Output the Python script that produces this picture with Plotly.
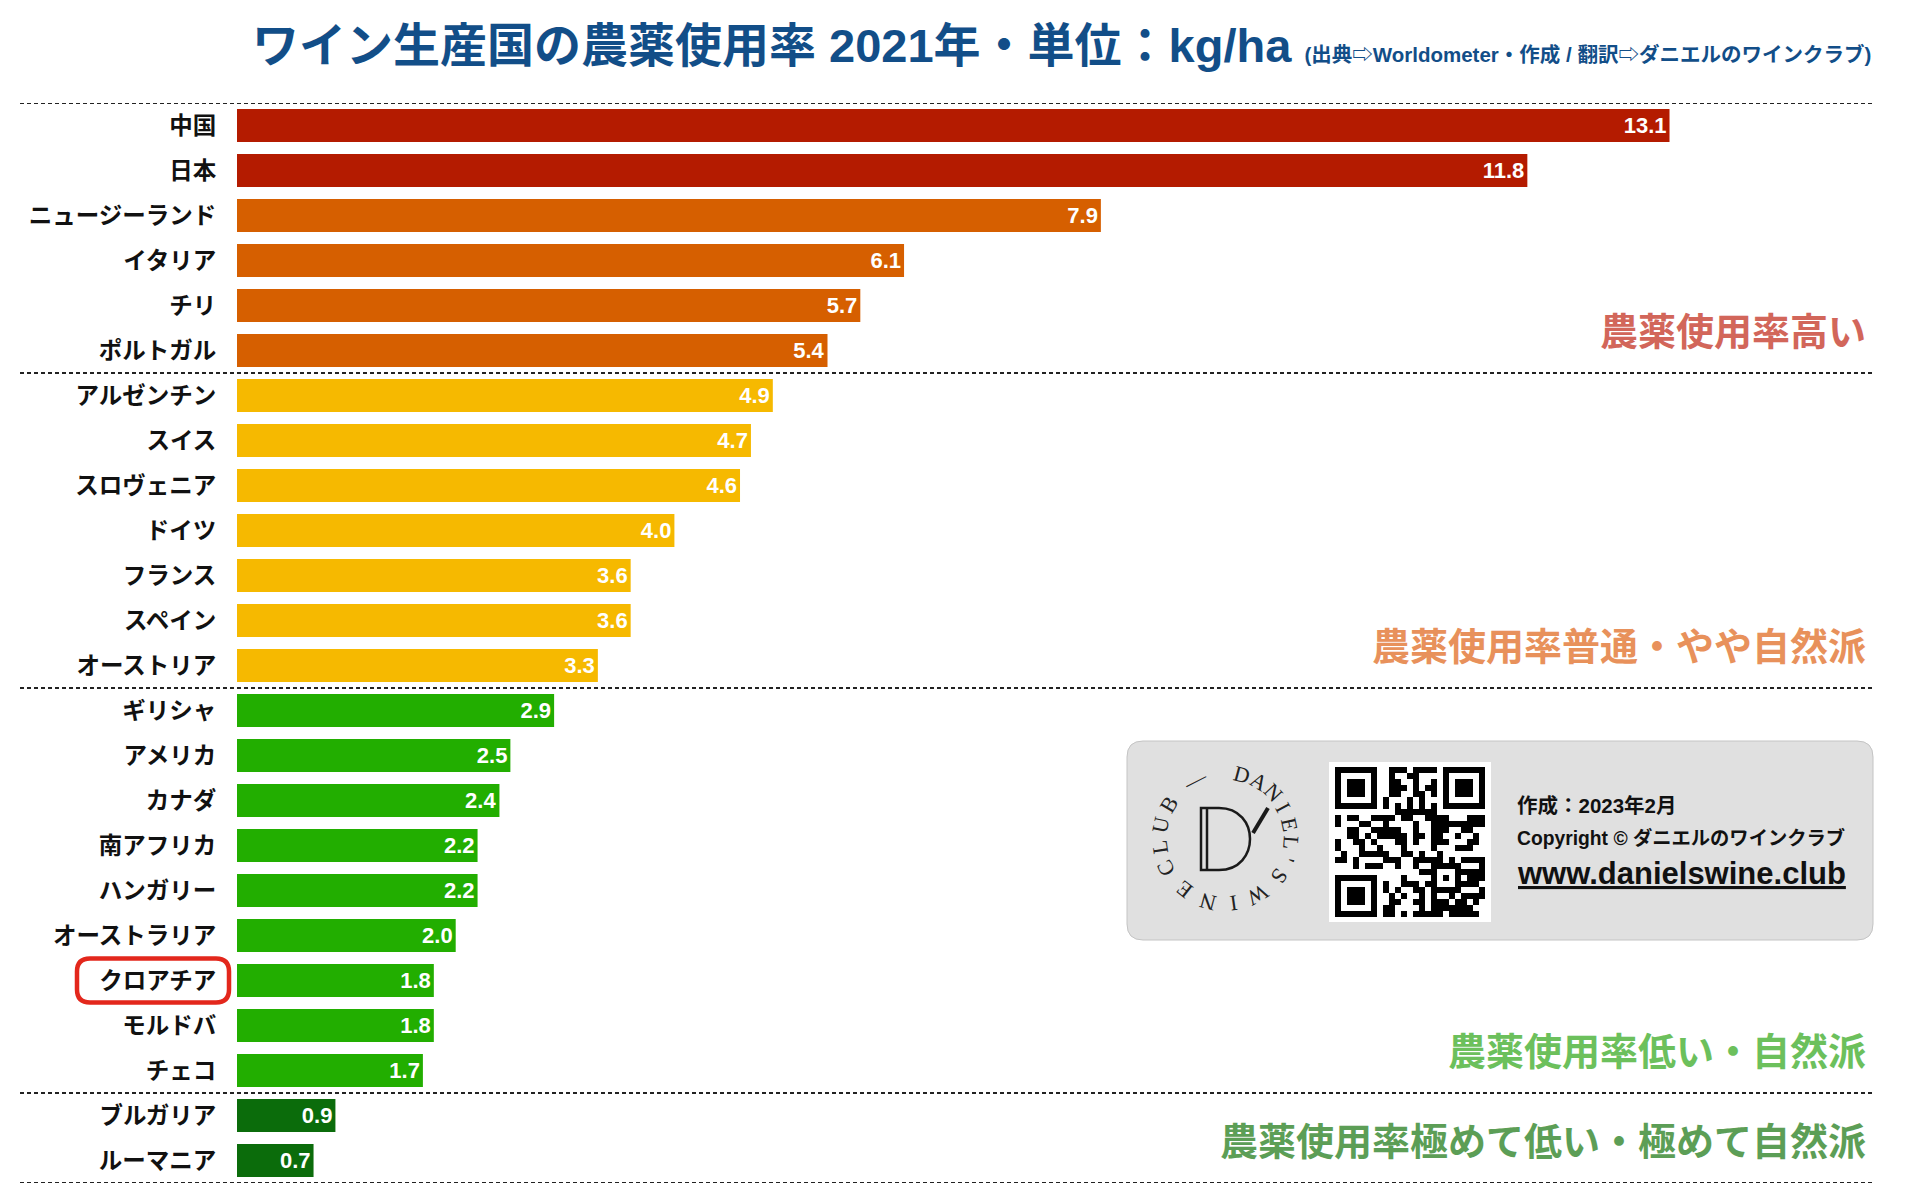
import math
import plotly.graph_objects as go

# ---------------- data ----------------
countries = ["中国", "日本", "ニュージーランド", "イタリア", "チリ", "ポルトガル",
             "アルゼンチン", "スイス", "スロヴェニア", "ドイツ", "フランス", "スペイン", "オーストリア",
             "ギリシャ", "アメリカ", "カナダ", "南アフリカ", "ハンガリー", "オーストラリア",
             "クロアチア", "モルドバ", "チェコ",
             "ブルガリア", "ルーマニア"]
values = [13.1, 11.8, 7.9, 6.1, 5.7, 5.4,
          4.9, 4.7, 4.6, 4.0, 3.6, 3.6, 3.3,
          2.9, 2.5, 2.4, 2.2, 2.2, 2.0, 1.8, 1.8, 1.7,
          0.9, 0.7]
tiers = ["red"] * 2 + ["orange"] * 4 + ["yellow"] * 7 + ["green"] * 9 + ["darkgreen"] * 2
section_names = ["農薬使用率高い", "農薬使用率普通・やや自然派",
                 "農薬使用率低い・自然派", "農薬使用率極めて低い・極めて自然派"]
section_last = [5, 12, 21, 23]
highlight = "クロアチア"

title_text = "ワイン生産国の農薬使用率 2021年・単位：kg/ha"
subtitle_text = "(出典⇨Worldometer・作成 / 翻訳⇨ダニエルのワインクラブ)"
credit_lines = ["作成：2023年2月", "Copyright © ダニエルのワインクラブ", "www.danielswine.club"]

# ---------------- styles ----------------
tier_colors = {"red": "#B41B00", "orange": "#D65F00", "yellow": "#F6B900",
               "green": "#22AE00", "darkgreen": "#0B6C0B"}
section_colors = ["#D2665A", "#E8915B", "#6CC05C", "#5C9E56"]
TITLE_BLUE = "#124E88"
JP = "Noto Sans CJK JP"
LAT = "Liberation Sans, Noto Sans CJK JP"

W, H = 1920, 1200
ML, MR, MT, MB = 237, 46, 103, 17
PW, PH = W - ML - MR, H - MT - MB


def px(X):
    return (X - ML) / PW


def py(Y):
    return (H - MB - Y) / PH


def rounded_rect(x0, y0, x1, y1, r):
    return (f"M {px(x0 + r)},{py(y0)} L {px(x1 - r)},{py(y0)} Q {px(x1)},{py(y0)} {px(x1)},{py(y0 + r)} "
            f"L {px(x1)},{py(y1 - r)} Q {px(x1)},{py(y1)} {px(x1 - r)},{py(y1)} "
            f"L {px(x0 + r)},{py(y1)} Q {px(x0)},{py(y1)} {px(x0)},{py(y1 - r)} "
            f"L {px(x0)},{py(y0 + r)} Q {px(x0)},{py(y0)} {px(x0 + r)},{py(y0)} Z")


n = len(countries)
ypos = list(range(n))
bar_colors = [tier_colors[t] for t in tiers]

fig = go.Figure()
fig.add_trace(go.Bar(
    orientation="h", x=values, y=ypos, width=0.73,
    marker=dict(color=bar_colors, line=dict(width=0)),
    texttemplate="%{x:.1f}", textposition="inside", insidetextanchor="end",
    textfont=dict(family="Liberation Sans", size=22, color="white", weight="bold"),
    constraintext="none", hoverinfo="skip", showlegend=False,
))

# ---- decorative stand-in for the QR code picture (not chart data) ----
N = 25


def qr_cell(r, c):
    for r0, c0 in [(0, 0), (0, N - 7), (N - 7, 0)]:
        if r0 <= r < r0 + 7 and c0 <= c < c0 + 7:
            rr, cc = r - r0, c - c0
            if rr in (0, 6) or cc in (0, 6):
                return 1
            return 1 if (2 <= rr <= 4 and 2 <= cc <= 4) else 0
    if (r < 8 and c < 8) or (r < 8 and c >= N - 8) or (r >= N - 8 and c < 8):
        return 0
    if 16 <= r <= 20 and 16 <= c <= 20:
        rr, cc = r - 16, c - 16
        if rr in (0, 4) or cc in (0, 4) or (rr == 2 and cc == 2):
            return 1
        return 0
    if r == 6:
        return 1 - c % 2
    if c == 6:
        return 1 - r % 2
    h = ((r * 2654435761) ^ (c * 40503) ^ (r * c * 97)) & 0xFFFFFFFF
    h = (h ^ (h >> 13)) * 1274126177 & 0xFFFFFFFF
    return (h >> 7) & 1


qr = [[qr_cell(r, c) for c in range(N)] for r in range(N)]
fig.add_trace(go.Heatmap(z=qr, xaxis="x2", yaxis="y2", zmin=0, zmax=1,
                         colorscale=[[0, "white"], [1, "black"]], showscale=False,
                         hoverinfo="skip"))

shapes = []
# logo panel + QR background (below traces)
shapes.append(dict(type="path", xref="paper", yref="paper", path=rounded_rect(1127, 741, 1873, 940, 16),
                   fillcolor="#E0E0E0", line=dict(color="#C4C4C4", width=1), layer="below"))
shapes.append(dict(type="rect", xref="paper", yref="paper", x0=px(1329), x1=px(1491), y0=py(762), y1=py(922),
                   fillcolor="white", line=dict(width=0), layer="below"))

# dashed separators
for b in [-0.5] + [s + 0.5 for s in section_last]:
    shapes.append(dict(type="line", xref="paper", yref="y", x0=px(20), x1=1.0, y0=b, y1=b,
                       line=dict(color="#222", width=2, dash="4px,3px"), layer="above"))

# highlight ring around label
hi = countries.index(highlight)
cy_hi = MT + (hi + 0.5) * PH / n
shapes.append(dict(type="path", xref="paper", yref="paper",
                   path=rounded_rect(77, cy_hi - 22, 229, cy_hi + 22, 13),
                   line=dict(color="#E3271C", width=4.5), fillcolor="rgba(0,0,0,0)", layer="above"))

# logo "D" mark
LCX, LCY = 1225, 838
d_left, d_top, d_bot, R = 1201, 808, 870, 31
k = 4 / 3 * R
d_path = (f"M {px(d_left)},{py(d_top)} L {px(d_left + 18)},{py(d_top)} "
          f"C {px(d_left + 18 + k)},{py(d_top)} {px(d_left + 18 + k)},{py(d_bot)} {px(d_left + 18)},{py(d_bot)} "
          f"L {px(d_left)},{py(d_bot)} Z")
shapes.append(dict(type="path", xref="paper", yref="paper", path=d_path,
                   line=dict(color="#1A1A1A", width=2.5), fillcolor="rgba(0,0,0,0)", layer="above"))
shapes.append(dict(type="line", xref="paper", yref="paper", x0=px(d_left + 6), x1=px(d_left + 6),
                   y0=py(d_top), y1=py(d_bot), line=dict(color="#1A1A1A", width=2.5), layer="above"))
shapes.append(dict(type="line", xref="paper", yref="paper", x0=px(1253), x1=px(1268), y0=py(833), y1=py(808),
                   line=dict(color="#1A1A1A", width=4), layer="above"))

annotations = []
# title + source
annotations.append(dict(
    xref="paper", yref="paper", x=px(250), y=py(46), xanchor="left", yanchor="middle", showarrow=False,
    text=f"<b>{title_text}</b> <span style='font-size:20.5px'><b>{subtitle_text}</b></span>",
    font=dict(family=LAT, size=47, color=TITLE_BLUE)))

# section labels
for name, last, col in zip(section_names, section_last, section_colors):
    annotations.append(dict(xref="paper", yref="y", x=px(1868), y=last - 0.5, xanchor="right", yanchor="middle",
                            showarrow=False, text=f"<b>{name}</b>",
                            font=dict(family=JP, size=38, color=col)))

# circular logo lettering
ring = [("D", 15), ("A", 31), ("N", 47), ("I", 62), ("E", 78), ("L", 94), ("'", 109), ("S", 125),
        ("W", 150), ("I", 172), ("N", 195), ("E", 218), ("C", 243), ("L", 262), ("U", 282), ("B", 301),
        ("—", 333)]
RR = 66
for ch, ang in ring:
    a = math.radians(ang)
    annotations.append(dict(xref="paper", yref="paper", x=px(LCX), y=py(LCY),
                            xshift=RR * math.sin(a), yshift=RR * math.cos(a),
                            xanchor="center", yanchor="middle", showarrow=False, text=ch, textangle=ang,
                            font=dict(family="Liberation Serif", size=22, color="#222")))

# credit text
credit_y = [805, 838, 873]
credit_size = [20.5, 19.3, 31]
for i, (t, yy, fs) in enumerate(zip(credit_lines, credit_y, credit_size)):
    txt = f"<b><u>{t}</u></b>" if i == 2 else f"<b>{t}</b>"
    annotations.append(dict(xref="paper", yref="paper", x=px(1515), y=py(yy), xanchor="left", yanchor="middle",
                            showarrow=False, text=txt, font=dict(family=LAT, size=fs, color="#111")))

fig.update_layout(
    width=W, height=H, margin=dict(l=ML, r=MR, t=MT, b=MB, autoexpand=False),
    paper_bgcolor="white", plot_bgcolor="white", showlegend=False, bargap=0.27,
    xaxis=dict(range=[0, 14.97], visible=False, fixedrange=True),
    yaxis=dict(range=[n - 0.5, -0.5], tickmode="array", tickvals=ypos, ticktext=countries,
               tickfont=dict(family=JP, size=23.5, color="#111", weight="bold"),
               ticks="outside", ticklen=15, tickcolor="rgba(0,0,0,0)",
               showgrid=False, zeroline=False, showline=False, automargin=False, fixedrange=True),
    xaxis2=dict(domain=[px(1335), px(1485)], anchor="y2", visible=False, range=[-0.5, N - 0.5], fixedrange=True),
    yaxis2=dict(domain=[py(917), py(767)], anchor="x2", visible=False, range=[N - 0.5, -0.5], fixedrange=True),
    shapes=shapes, annotations=annotations,
)

fig.write_html("out.html")
